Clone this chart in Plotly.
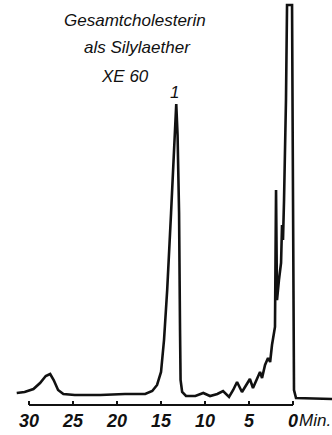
import plotly.graph_objects as go

# Retention time (min) and detector signal (arbitrary units)
time_min = [31.4, 30.5, 29.5, 28.75, 28.1, 27.6, 27.2, 26.7, 26.1, 24.8, 21.9, 19.1, 16.8,
            16.0, 15.45, 15.0, 14.66, 14.3, 13.86, 13.5, 13.27, 13.12, 12.95, 12.84, 12.78,
            12.6, 12.16, 11.1, 10.2, 9.43, 8.6, 7.95, 7.27, 6.8, 6.36, 5.8, 5.34, 4.9, 4.55,
            4.1, 3.75, 3.52, 3.18, 2.84, 2.6, 2.39, 2.16, 2.05, 1.93, 1.82, 1.6, 1.36, 1.25,
            1.14, 1.02, 0.8, 0.68, 0.11, 0.0, -0.11, -0.34, -4.43]
signal = [7, 8, 11, 17, 24, 26, 20, 10, 6, 5, 5, 6, 6,
          9, 15, 28, 60, 110, 187, 250, 296, 265, 187, 70, 20,
          8, 4, 4, 7, 4, 6, 9, 3, 10, 18, 8, 15, 21, 12,
          22, 28, 22, 35, 42, 38, 55, 65, 73, 210, 100, 120, 137, 175,
          160, 200, 300, 395, 395, 200, 10, 2, 1]

tick_vals = [30, 25, 20, 15, 10, 5, 0]
tick_text = ["30", "25", "20", "15", "10", "5", "0"]

title_lines = ["Gesamtcholesterin", "als Silylaether", "XE 60"]
peak_label = "1"
axis_unit = "Min."

FONT = "Liberation Sans, Arial, sans-serif"
INK = "#111111"

W, H = 332, 435
PLOT_H = 405


def px(X):
    return X / W


def py(Y):
    return 1 - Y / PLOT_H


fig = go.Figure()
fig.add_trace(go.Scatter(x=time_min, y=signal, mode="lines",
                         line=dict(color=INK, width=2.6), hoverinfo="skip"))

fig.add_shape(type="line", xref="x", yref="paper", x0=tick_vals[0], x1=tick_vals[-1],
              y0=0, y1=0, line=dict(color=INK, width=2))

fig.update_layout(
    width=W, height=H,
    margin=dict(l=0, r=0, t=0, b=H - PLOT_H),
    paper_bgcolor="white", plot_bgcolor="white",
    showlegend=False,
    xaxis=dict(range=[33.3, -4.43], showgrid=False, zeroline=False, showline=False,
               tickmode="array", tickvals=tick_vals, ticktext=tick_text,
               ticks="inside", ticklen=4, tickwidth=2, tickcolor=INK,
               ticklabelstandoff=3,
               tickfont=dict(family=FONT, size=18, color=INK, style="italic", weight="bold")),
    yaxis=dict(range=[-5, 400], visible=False),
)

title_pos = [(135, 21), (137, 48), (125, 76)]
for txt, (X, Y) in zip(title_lines, title_pos):
    fig.add_annotation(text=txt, xref="paper", yref="paper", x=px(X), y=py(Y),
                       showarrow=False, xanchor="center", yanchor="middle",
                       font=dict(family=FONT, size=17, color=INK, style="italic"))

fig.add_annotation(text=peak_label, xref="paper", yref="paper", x=px(174), y=py(92),
                   showarrow=False, xanchor="center", yanchor="middle",
                   font=dict(family=FONT, size=17, color=INK, style="italic"))

fig.add_annotation(text=axis_unit, xref="paper", yref="paper", x=px(297), y=py(420),
                   showarrow=False, xanchor="left", yanchor="middle",
                   font=dict(family=FONT, size=17, color=INK, style="italic"))

# remove the browser's default 8 px body margin so the figure fills the window
fig.write_html("out.html",
               config={"displayModeBar": False},
               post_script="document.body.style.margin='0';document.body.style.overflow='hidden';")
